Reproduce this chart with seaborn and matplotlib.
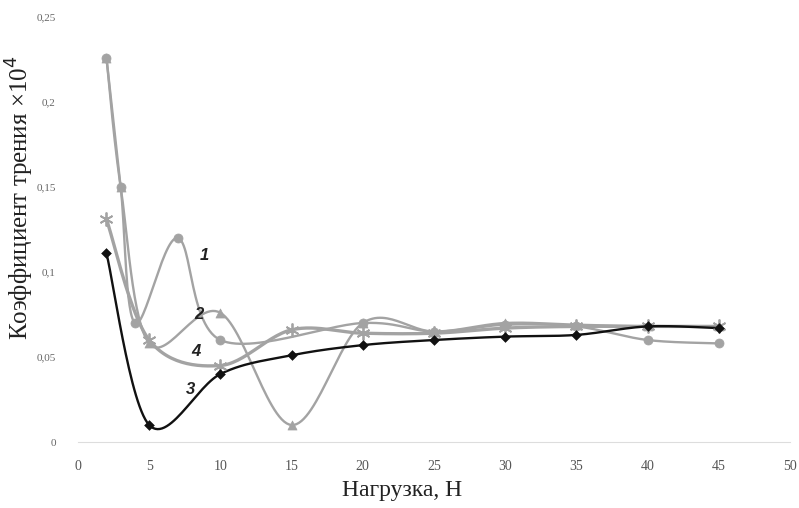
import numpy as np
import pandas as pd
import matplotlib
matplotlib.use("Agg")
import matplotlib.pyplot as plt
import seaborn as sns

# ---- data ----
x1 = [2, 3, 4, 7, 10, 20, 25, 30, 35, 40, 45]
y1 = [0.226, 0.150, 0.070, 0.120, 0.060, 0.070, 0.065, 0.069, 0.068, 0.060, 0.058]
x2 = [2, 3, 5, 10, 15, 20, 25, 30, 35, 40, 45]
y2 = [0.226, 0.150, 0.058, 0.076, 0.010, 0.070, 0.065, 0.070, 0.069, 0.068, 0.068]
x3 = [2, 5, 10, 15, 20, 25, 30, 35, 40, 45]
y3 = [0.111, 0.010, 0.040, 0.051, 0.057, 0.060, 0.062, 0.063, 0.068, 0.067]
x4 = [2, 5, 10, 15, 20, 25, 30, 35, 40, 45]
y4 = [0.131, 0.060, 0.045, 0.066, 0.064, 0.064, 0.067, 0.068, 0.068, 0.068]
series_labels = ["1", "2", "3", "4"]
label_pos_x = [8.9, 8.5, 7.9, 8.3]
label_pos_y = [0.110, 0.075, 0.031, 0.053]
x_ticks = [0, 5, 10, 15, 20, 25, 30, 35, 40, 45, 50]
y_ticks = [0, 0.05, 0.1, 0.15, 0.2, 0.25]
y_tick_labels = ["0", "0,05", "0,1", "0,15", "0,2", "0,25"]


def smooth(xs, ys, n=30):
    """Excel-like smoothed line (Bezier with 1/6 control points)."""
    P = np.column_stack([xs, ys]).astype(float)
    sx, sy = 50.0, 0.25
    P = P / [sx, sy]
    out = []
    for i in range(len(P) - 1):
        p0 = P[i - 1] if i > 0 else P[i]
        p1 = P[i]
        p2 = P[i + 1]
        p3 = P[i + 2] if i + 2 < len(P) else P[i + 1]
        c1 = p1 + (p2 - p0) / 6
        c2 = p2 - (p3 - p1) / 6
        t = np.linspace(0, 1, n)[:, None]
        seg = ((1 - t) ** 3) * p1 + 3 * ((1 - t) ** 2) * t * c1 + 3 * (1 - t) * t ** 2 * c2 + t ** 3 * p2
        if i > 0:
            seg = seg[1:]
        out.append(seg)
    pts = np.vstack(out) * [sx, sy]
    return pts[:, 0], pts[:, 1]


sns.set_theme(style="white")
plt.rcParams['font.family'] = ['Liberation Serif', 'DejaVu Serif']

fig = plt.figure(figsize=(7.99, 5.08), dpi=100)
ax = fig.add_axes([0.0976, 0.1299, 0.8911, 0.8366])

gray = "#a3a3a3"
specs = [
    (x1, y1, gray, "o", 6.5, 1.7),
    (x2, y2, gray, "^", 6.5, 1.7),
    (x4, y4, gray, (6, 2, 0), 10, 2.4),
    (x3, y3, "#111111", "D", 5, 1.7),
]
for xs, ys, col, mk, ms, lw in specs:
    sx_, sy_ = smooth(xs, ys)
    df = pd.DataFrame({"x": sx_, "y": sy_})
    sns.lineplot(data=df, x="x", y="y", sort=False, color=col, lw=lw, ax=ax, estimator=None)
    dm = pd.DataFrame({"x": xs, "y": ys})
    if isinstance(mk, tuple):
        ax.plot(xs, ys, ls="none", marker=mk, ms=ms, mew=1.3, mec=col, color=col, zorder=5)
    else:
        sns.scatterplot(data=dm, x="x", y="y", marker=mk, s=ms ** 2, color=col, edgecolor=col, ax=ax, zorder=5)

for lab, lx, ly in zip(series_labels, label_pos_x, label_pos_y):
    ax.text(lx, ly, lab, fontsize=12, fontstyle="italic", fontweight="bold",
            color="#222222", ha="center", va="center", family=["Liberation Sans", "DejaVu Sans"])

ax.set_xlim(0, 50)
ax.set_ylim(0, 0.25)
ax.set_xticks(x_ticks)
ax.set_xticklabels([str(v) for v in x_ticks])
ax.set_yticks(y_ticks)
ax.set_yticklabels(y_tick_labels)
ax.tick_params(axis="x", labelsize=10, colors="#555555", pad=13, length=0)
ax.tick_params(axis="y", labelsize=8, colors="#666666", pad=16, length=0)
for s in ["top", "right", "left"]:
    ax.spines[s].set_visible(False)
ax.spines["bottom"].set_color("#dddddd")
ax.spines["bottom"].set_linewidth(0.8)
ax.set_xlabel("Нагрузка, Н", fontsize=17, color="#222222")
ax.xaxis.label.set_verticalalignment("center")
ax.xaxis.set_label_coords(0.455, -0.115)
ax.set_ylabel("Коэффициент трения ×10$^4$", fontsize=18, color="#222222")
ax.yaxis.label.set_verticalalignment("center")
ax.yaxis.set_label_coords(-0.082, 0.575)
ax.grid(False)

fig.savefig("out.png", dpi=100)
